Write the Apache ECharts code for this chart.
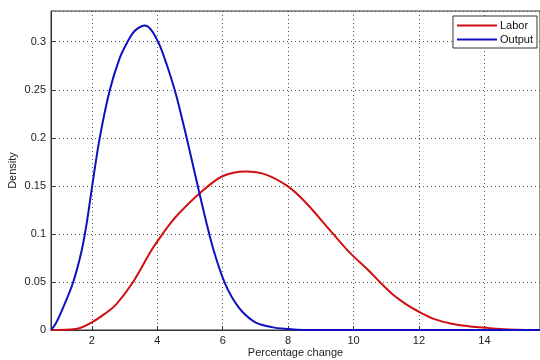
<!DOCTYPE html>
<html style="height: 100%">
<head>
    <meta charset="utf-8">
    <title>Density</title>
    <script src="https://cdn.jsdelivr.net/npm/echarts@6/dist/echarts.min.js"></script>
</head>
<body style="height: 100%; margin: 0; background: #fff">
<div id="container" style="width: 540px; height: 360px"></div>
<script type="text/javascript">
    // Output density (blue)
    var outputX = [0.75, 0.9, 1.13, 1.43, 1.69, 1.85, 2.01, 2.24, 2.55, 2.85, 3.09, 3.25, 3.4, 3.61, 3.8, 4.05, 4.3, 4.53, 4.7, 5.0, 5.29, 5.5, 5.74, 6.05, 6.3, 6.6, 7.0, 7.5, 8.0, 8.5, 15.7];
    var outputY = [0, 0.007, 0.024, 0.05, 0.083, 0.113, 0.15, 0.2, 0.25, 0.283, 0.3, 0.309, 0.314, 0.317, 0.313, 0.298, 0.275, 0.25, 0.228, 0.185, 0.142, 0.112, 0.081, 0.05, 0.033, 0.019, 0.008, 0.003, 0.001, 0, 0];

    // Labor density (red)
    var laborX = [0.75, 1.5, 2.0, 2.4, 2.75, 3.26, 3.82, 4.12, 4.4, 4.68, 5.29, 5.99, 6.71, 7.3, 7.97, 8.5, 9.35, 9.9, 10.46, 10.8, 11.2, 11.6, 12.0, 12.5, 13.0, 13.5, 14.0, 14.5, 15.0, 15.7];
    var laborY = [0, 0.001, 0.008, 0.017, 0.027, 0.05, 0.083, 0.098, 0.111, 0.122, 0.142, 0.16, 0.165, 0.162, 0.15, 0.134, 0.101, 0.08, 0.062, 0.05, 0.037, 0.027, 0.019, 0.011, 0.0065, 0.004, 0.0025, 0.001, 0.0003, 0];

    var seriesNames = ['Labor', 'Output'];

    function pairs(xs, ys) {
        var out = [];
        for (var i = 0; i < xs.length; i++) {
            out.push([xs[i], ys[i]]);
        }
        return out;
    }

    var font = 'Liberation Sans';
    var gridLine = { show: true, lineStyle: { color: '#555', width: 1, type: [1, 3] } };

    var myChart = echarts.init(document.getElementById('container'));
    var option = {
        animation: false,
        backgroundColor: '#fff',
        textStyle: { fontFamily: font },
        grid: {
            left: 51, right: 0, top: 11, bottom: 30,
            containLabel: false,
            outerBoundsMode: 'none',
            show: true, borderColor: '#333', borderWidth: 1
        },
        legend: {
            data: seriesNames,
            orient: 'vertical',
            right: 3, top: 16,
            icon: 'rect',
            itemWidth: 40, itemHeight: 2,
            itemGap: 3,
            padding: [4, 4, 3, 4],
            backgroundColor: '#fff',
            borderColor: '#333', borderWidth: 1, borderRadius: 0,
            textStyle: { fontFamily: font, fontSize: 11, color: '#111', padding: [0, 0, 0, -2] }
        },
        xAxis: {
            type: 'value',
            min: 0.75, max: 15.7,
            splitNumber: 7,
            name: 'Percentage change',
            nameLocation: 'middle',
            nameGap: 17,
            nameMoveOverlap: false,
            nameTextStyle: { fontFamily: font, fontSize: 11, color: '#222' },
            axisLine: { show: true, lineStyle: { color: '#333' } },
            axisTick: { inside: true, length: 4, lineStyle: { color: '#333' } },
            axisLabel: { showMinLabel: false, showMaxLabel: false, fontFamily: font, fontSize: 11, color: '#222', margin: 5 },
            splitLine: gridLine
        },
        yAxis: {
            type: 'value',
            min: 0, max: 0.332,
            interval: 0.05,
            name: 'Density',
            nameLocation: 'middle',
            nameGap: 33,
            nameMoveOverlap: false,
            nameTextStyle: { fontFamily: font, fontSize: 11, color: '#222' },
            axisLine: { show: true, lineStyle: { color: '#333' } },
            axisTick: { inside: true, length: 4, lineStyle: { color: '#333' } },
            axisLabel: { showMaxLabel: false, fontFamily: font, fontSize: 11, color: '#222', margin: 5 },
            splitLine: gridLine
        },
        series: [
            {
                name: 'Labor',
                type: 'line',
                data: pairs(laborX, laborY),
                smooth: 0.35,
                symbol: 'none',
                lineStyle: { color: '#d01010', width: 2 },
                itemStyle: { color: '#d01010' },
                z: 2
            },
            {
                name: 'Output',
                type: 'line',
                data: pairs(outputX, outputY),
                smooth: 0.35,
                symbol: 'none',
                lineStyle: { color: '#1010c0', width: 2 },
                itemStyle: { color: '#1010c0' },
                z: 3
            }
        ]
    };
    myChart.setOption(option);
</script>
</body>
</html>
